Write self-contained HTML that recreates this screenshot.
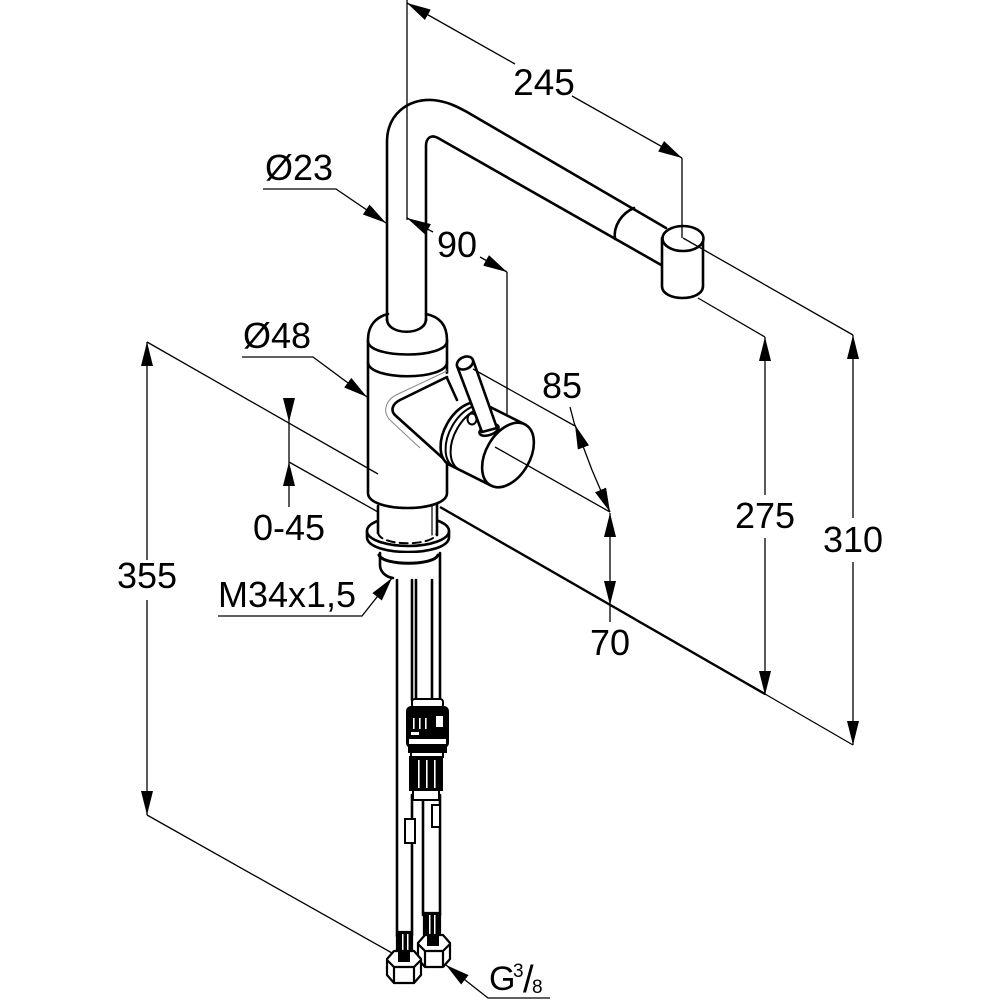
<!DOCTYPE html>
<html>
<head>
<meta charset="utf-8">
<style>
html,body{margin:0;padding:0;background:#fff;}
svg{display:block;}
text{font-family:"Liberation Sans",Arial,sans-serif;}
</style>
</head>
<body>
<svg width="1000" height="1000" viewBox="0 0 1000 1000" xmlns="http://www.w3.org/2000/svg">
<defs>
<marker id="a" markerUnits="userSpaceOnUse" markerWidth="24" markerHeight="12" refX="24" refY="6" orient="auto" viewBox="0 0 24 12">
<path d="M0,0 L24,6 L0,12 Z" fill="#000"/>
</marker>
</defs>
<rect width="1000" height="1000" fill="#fff"/>

<!-- ===== FLANGE & NECK ===== -->
<g stroke="#000" stroke-width="2.6" fill="#fff" stroke-linejoin="round" stroke-linecap="round">
  <path d="M367,531 L367,537 C367,557 449,557 449,537 L449,531 Z"/>
  <ellipse cx="408" cy="531" rx="41" ry="15"/>
  <path d="M378,505 L378,532 C378,547 437,547 437,532 L437,505 Z" stroke="none"/>
  <path d="M378,506 L378,533" fill="none"/>
  <path d="M437,503 L437,535" fill="none"/>
  <path d="M432,505 L432,535" fill="none" stroke-width="1.2"/>
  <path d="M378,532 C378,547 437,547 437,532" fill="none" stroke-dasharray="8 5" stroke-width="2"/>
</g>

<!-- ===== BODY ===== -->
<g stroke="#000" stroke-width="2.6" fill="none" stroke-linejoin="round" stroke-linecap="round">
  <path d="M368,340 C368,322 380,316 388,314 L426,314 C436,316 447,322 447,340 L447,493 C447,513 368,513 368,493 Z" fill="#fff" stroke="none"/>
  <path d="M388,314 C380,316 368,322 368,340 L368,493 C368,513 447,513 447,493 L447,340 C447,322 436,316 426,314"/>
  <path d="M368,341 C368,359 447,359 447,341"/>
  <path d="M368,362 C368,381 447,381 447,362"/>
</g>

<!-- ===== SPOUT ===== -->
<g stroke="#000" stroke-width="2.6" fill="none" stroke-linejoin="round" stroke-linecap="round">
  <path d="M387,320 L387,142 C387,114 408,99 432,100 C446,101 456,106 467,112 L666,228"/>
  <path d="M426,320 L426,146 C426,138 431,134 438,138 L663,266"/>
  <path d="M387,319 C387,336 426,336 426,319"/>
  <path d="M634,208 C622,213 613,226 615,239"/>
  <path d="M662,238 L662,286 C662,302 703,302 703,286 L703,238 Z" fill="#fff"/>
  <ellipse cx="683" cy="238.5" rx="20.5" ry="12.5" fill="#fff"/>
</g>

<!-- ===== BOSS / HANDLE ===== -->
<path d="M447,371 L396,395 C385,401 382,413 391,421 L420,448" fill="none" stroke="#888" stroke-width="1"/>
<g stroke="#000" stroke-width="2.6" fill="none" stroke-linejoin="round" stroke-linecap="round">
  <path d="M446,374 L400,399 C391,404 390,412 396,417 L449,466 L470,466 L486,402 L456,372 Z" fill="#fff" stroke="none"/>
  <path d="M447,377 L400,400 C392,404 390,411 396,416 L446,461"/>
  <path d="M447,378 L457,400"/>
  <!-- cylinder -->
  <path d="M483.5,403.7 L525.5,424.7 L490.5,485.3 L448.5,464.3 A22,35 30 0 1 483.5,403.7 Z" fill="#fff" stroke="none"/>
  <path d="M483.5,403.7 A22,35 30 0 0 448.5,464.3"/>
  <path d="M488.5,406.2 A22,35 30 0 0 453.5,466.8" stroke-width="2"/>
  <path d="M493.5,408.7 A22,35 30 0 0 458.5,469.3" stroke-width="2"/>
  <path d="M483.5,403.7 L525.5,424.7"/>
  <path d="M448.5,464.3 L490.5,485.3"/>
  <ellipse cx="508" cy="455" rx="22" ry="35" transform="rotate(30 508 455)" fill="#fff"/>
  <!-- lever -->
  <ellipse cx="472" cy="419" rx="4.5" ry="5.5" stroke-width="2"/>
  <ellipse cx="489" cy="430" rx="10" ry="5" transform="rotate(-20 489 430)" fill="#fff"/>
  <path d="M457,366 L482,432 L497,428 L473,360 Z" fill="#fff"/>
  <ellipse cx="465" cy="363" rx="8.5" ry="6" transform="rotate(-25 465 363)" fill="#fff"/>
</g>

<!-- ===== SHANK / HOSES ===== -->
<g stroke="#000" stroke-width="2.6" fill="none" stroke-linejoin="round" stroke-linecap="round">
  <path d="M380,553 L380,565 C380,572 386,577 393,578 L397,578 L397,600 L440,600 L440,553 Z" fill="#fff" stroke="none"/>
  <path d="M380,553 L380,565 C380,572 386,577 393,578"/>
  <path d="M379,555 C383,566 434,566 438,555" stroke-width="3"/>
  <path d="M440,553 L440,700"/>
  <path d="M397,580 L397,936"/>
  <path d="M412,580 L412,700"/>
  <path d="M416,580 L416,700"/>
  <path d="M432,580 L432,700"/>
  <!-- below coupling -->
  <path d="M412,795 L412,935"/>
  <path d="M423,800 L423,915"/>
  <path d="M440,795 L440,915"/>
</g>
<!-- coupling -->
<g stroke="#000" stroke-width="2">
  <rect x="412" y="699" width="31" height="9" rx="3" fill="#fff"/>
  <rect x="407" y="707" width="41" height="40" rx="4" fill="#000"/>
  <rect x="436" y="716" width="7" height="11" fill="#fff" stroke="none"/>
  <rect x="413" y="718" width="1.6" height="11" fill="#fff" stroke="none"/>
  <rect x="419" y="718" width="1.6" height="11" fill="#fff" stroke="none"/>
  <rect x="425" y="718" width="1.6" height="11" fill="#fff" stroke="none"/>
  <rect x="411" y="732" width="8" height="3" fill="#fff" stroke="none"/>
  <rect x="409" y="739" width="37" height="6" fill="#fff" stroke="none"/>
  <rect x="409" y="745" width="37" height="7" fill="#000"/>
  <rect x="411" y="752" width="32" height="5" fill="#fff"/>
  <rect x="410" y="757" width="32" height="33" fill="#000"/>
  <rect x="418" y="760" width="1.6" height="28" fill="#fff" stroke="none"/>
  <rect x="426" y="760" width="1.6" height="28" fill="#fff" stroke="none"/>
  <rect x="434" y="760" width="1.6" height="28" fill="#fff" stroke="none"/>
  <rect x="413" y="790" width="26" height="10" fill="#fff"/>
  <!-- clips -->
  <rect x="405" y="819" width="10" height="24" fill="#fff"/>
  <rect x="432" y="805" width="8" height="22" fill="#fff"/>
</g>
<!-- nuts -->
<g stroke="#000" stroke-width="2.2" stroke-linejoin="round">
  <rect x="424" y="913" width="16" height="28" fill="#000"/>
  <rect x="429" y="915" width="1.5" height="24" fill="#fff" stroke="none"/>
  <rect x="434" y="915" width="1.5" height="24" fill="#fff" stroke="none"/>
  <polygon points="418,943 425,935 443,935 450,943 450,959 443,967 425,967 418,959" fill="#fff"/>
  <polyline points="418,944 425,951 443,951 450,944" fill="none"/>
  <path d="M425,951 L425,967 M443,951 L443,967" fill="none"/>
  <rect x="427" y="936" width="12" height="10" fill="#000" stroke="none"/>
  <rect x="397" y="932" width="15" height="26" fill="#000"/>
  <rect x="402" y="934" width="1.5" height="22" fill="#fff" stroke="none"/>
  <rect x="407" y="934" width="1.5" height="22" fill="#fff" stroke="none"/>
  <polygon points="387,959 394,951 414,951 421,959 421,975 414,983 394,983 387,975" fill="#fff"/>
  <polyline points="387,960 394,967 414,967 421,960" fill="none"/>
  <path d="M394,967 L394,983 M414,967 L414,983" fill="none"/>
  <rect x="398" y="952" width="12" height="10" fill="#000" stroke="none"/>
</g>

<!-- ===== DIMENSIONS ===== -->
<g stroke="#000" stroke-width="1.3" fill="none">
  <!-- extension lines -->
  <path d="M407,0 L407,220"/>
  <path d="M682,158 L682,238"/>
  <path d="M507,272 L507,414"/>
  <path d="M683,238 L853,335"/>
  <path d="M698,298 L765,337"/>
  <path d="M147,342 L378,474"/>
  <path d="M289,462 L378,512"/>
  <path d="M147,815 L392,953"/>
  <path d="M473,369 L575,426"/>
  <path d="M495,447 L610,512"/>
  <path d="M440,507 L765,694" stroke-width="2.4"/>
  <path d="M765,694 L853,745"/>
  <!-- 245 -->
  <path d="M515,64 L407,3" marker-end="url(#a)"/>
  <path d="M572,96 L682,158" marker-end="url(#a)"/>
  <!-- 90 -->
  <path d="M433,232 L407,218" marker-end="url(#a)"/>
  <path d="M480,257 L507,272" marker-end="url(#a)"/>
  <!-- 85 -->
  <path d="M570,407 L575,426"/>
  <path d="M592,470 L575,425" marker-end="url(#a)"/>
  <path d="M592,470 L610,512" marker-end="url(#a)"/>
  <!-- 70 -->
  <path d="M610,560 L610,513" marker-end="url(#a)"/>
  <path d="M610,560 L610,605" marker-end="url(#a)"/>
  <path d="M610,605 L610,622"/>
  <!-- 0-45 -->
  <path d="M289,398 L289,422" marker-end="url(#a)"/>
  <path d="M289,422 L289,462"/>
  <path d="M289,507 L289,462" marker-end="url(#a)"/>
  <!-- 355 -->
  <path d="M147,560 L147,342" marker-end="url(#a)"/>
  <path d="M147,600 L147,815" marker-end="url(#a)"/>
  <!-- 275 -->
  <path d="M765,495 L765,337" marker-end="url(#a)"/>
  <path d="M765,538 L765,695" marker-end="url(#a)"/>
  <!-- 310 -->
  <path d="M853,518 L853,335" marker-end="url(#a)"/>
  <path d="M853,562 L853,745" marker-end="url(#a)"/>
  <!-- leaders -->
  <path d="M263,189 L336,189 L386,223" marker-end="url(#a)"/>
  <path d="M242,357 L313,357 L367,397" marker-end="url(#a)"/>
  <path d="M218,616 L362,616 L392,578" marker-end="url(#a)"/>
  <path d="M550,998 L488,998 L446,965" marker-end="url(#a)"/>
</g>

<!-- ===== TEXT ===== -->
<g fill="#000" font-size="36">
  <text x="544" y="95" text-anchor="middle" font-size="37">245</text>
  <text x="437" y="257">90</text>
  <text x="265" y="180">Ø23</text>
  <text x="243" y="348">Ø48</text>
  <text x="542" y="398">85</text>
  <text x="147" y="588" text-anchor="middle">355</text>
  <text x="289" y="540" text-anchor="middle">0-45</text>
  <text x="218" y="607">M34x1,5</text>
  <text x="610" y="655" text-anchor="middle">70</text>
  <text x="765" y="528" text-anchor="middle">275</text>
  <text x="853" y="552" text-anchor="middle">310</text>
  <text x="489" y="990" font-size="34">G</text>
  <text x="513" y="977" font-size="19">3</text>
  <text x="523" y="992" font-size="38">/</text>
  <text x="532" y="993" font-size="19">8</text>
</g>
</svg>
</body>
</html>
